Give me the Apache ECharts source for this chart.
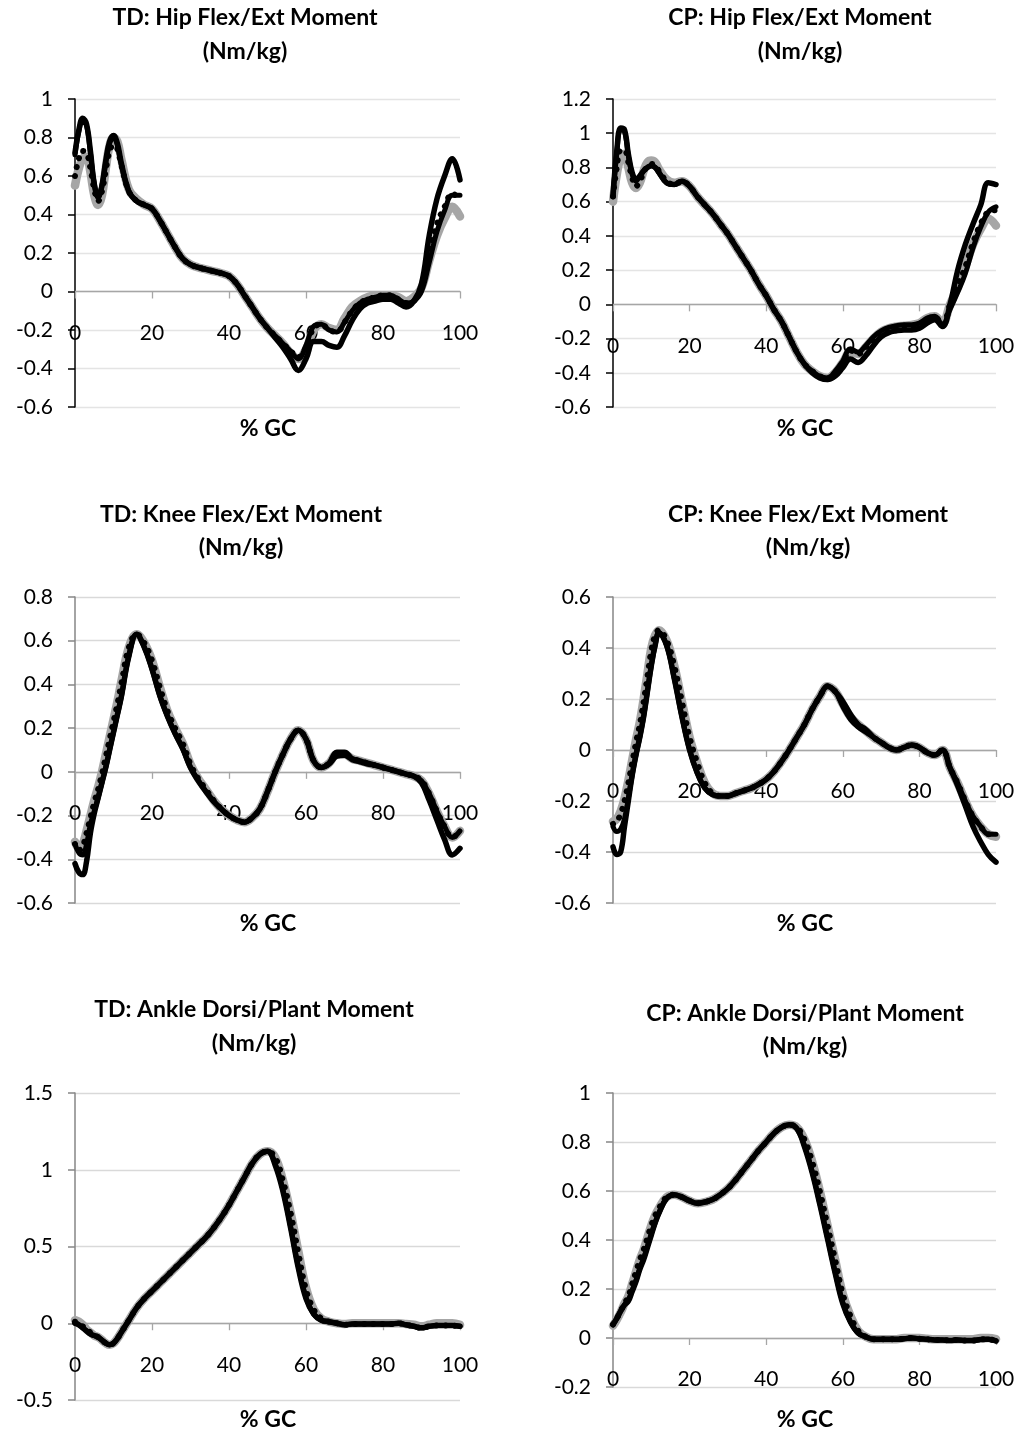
<!DOCTYPE html>
<html>
<head>
<meta charset="utf-8">
<script src="https://cdn.jsdelivr.net/npm/echarts@6/dist/echarts.min.js"></script>
<style>
  html, body { margin: 0; padding: 0; background: #fff; }
  #chart { width: 1019px; height: 1434px; }
</style>
</head>
<body>
<div id="chart"></div>
<script>
// Percent of gait cycle (finer steps through early stance)
const pct = [0,1,2,3,4,5,6,7,8,9,10,11,12,14,16,18,20,22,24,26,28,30,32,34,36,38,40,42,44,46,48,50,52,54,56,58,60,62,64,66,68,70,72,74,76,78,80,82,84,86,88,90,92,94,96,98,100];

// ---- TD: Hip flexion/extension moment (Nm/kg)
const tdHipA = [0.72,0.84,0.9,0.87,0.73,0.56,0.49,0.55,0.68,0.78,0.81,0.77,0.67,0.52,0.47,0.45,0.43,0.37,0.3,0.23,0.17,0.14,0.125,0.115,0.105,0.095,0.08,0.04,-0.02,-0.08,-0.14,-0.19,-0.24,-0.29,-0.35,-0.41,-0.35,-0.26,-0.26,-0.28,-0.29,-0.23,-0.15,-0.09,-0.06,-0.05,-0.04,-0.04,-0.06,-0.08,-0.05,0.04,0.29,0.48,0.6,0.69,0.58];
const tdHipB = [0.71,0.83,0.89,0.86,0.72,0.56,0.49,0.55,0.67,0.77,0.8,0.76,0.66,0.52,0.47,0.45,0.43,0.37,0.3,0.23,0.17,0.14,0.125,0.115,0.105,0.095,0.08,0.04,-0.02,-0.08,-0.14,-0.19,-0.23,-0.27,-0.31,-0.35,-0.28,-0.18,-0.17,-0.2,-0.21,-0.16,-0.1,-0.06,-0.04,-0.03,-0.02,-0.02,-0.04,-0.06,-0.05,0.0,0.15,0.31,0.42,0.5,0.5];
const tdHipDot = [0.6,0.69,0.73,0.72,0.64,0.53,0.47,0.52,0.63,0.73,0.76,0.74,0.66,0.52,0.47,0.45,0.43,0.37,0.3,0.23,0.17,0.14,0.125,0.115,0.105,0.095,0.08,0.04,-0.02,-0.08,-0.14,-0.19,-0.23,-0.27,-0.31,-0.34,-0.29,-0.19,-0.17,-0.2,-0.21,-0.16,-0.1,-0.06,-0.04,-0.03,-0.02,-0.02,-0.04,-0.06,-0.05,0.02,0.2,0.35,0.44,0.51,0.47];
const tdHipGrey = [0.55,0.64,0.69,0.7,0.62,0.5,0.45,0.5,0.64,0.76,0.8,0.78,0.69,0.53,0.48,0.45,0.43,0.37,0.3,0.23,0.17,0.14,0.125,0.115,0.105,0.095,0.08,0.04,-0.02,-0.08,-0.14,-0.19,-0.23,-0.27,-0.32,-0.35,-0.3,-0.2,-0.17,-0.19,-0.2,-0.14,-0.08,-0.05,-0.03,-0.02,-0.02,-0.02,-0.03,-0.05,-0.03,0.02,0.16,0.29,0.38,0.44,0.39];

// ---- CP: Hip flexion/extension moment (Nm/kg)
const cpHipA = [0.63,0.9,1.03,1.02,0.88,0.77,0.73,0.75,0.78,0.8,0.81,0.8,0.77,0.71,0.7,0.72,0.69,0.63,0.58,0.53,0.47,0.41,0.34,0.27,0.2,0.12,0.05,-0.03,-0.1,-0.19,-0.28,-0.35,-0.4,-0.43,-0.44,-0.42,-0.37,-0.32,-0.34,-0.3,-0.24,-0.19,-0.165,-0.155,-0.15,-0.15,-0.14,-0.11,-0.09,-0.13,0.0,0.2,0.35,0.47,0.58,0.71,0.7];
const cpHipB = [0.63,0.89,1.02,1.01,0.87,0.76,0.72,0.75,0.78,0.8,0.81,0.8,0.77,0.71,0.7,0.72,0.69,0.63,0.58,0.53,0.47,0.41,0.34,0.27,0.2,0.12,0.05,-0.03,-0.1,-0.19,-0.28,-0.35,-0.39,-0.42,-0.43,-0.39,-0.33,-0.26,-0.28,-0.24,-0.19,-0.155,-0.135,-0.125,-0.12,-0.12,-0.11,-0.08,-0.07,-0.12,-0.03,0.07,0.18,0.33,0.45,0.54,0.57];
const cpHipDot = [0.63,0.8,0.9,0.9,0.83,0.74,0.69,0.72,0.77,0.81,0.82,0.81,0.78,0.72,0.7,0.72,0.69,0.63,0.58,0.53,0.47,0.41,0.34,0.27,0.2,0.12,0.05,-0.03,-0.1,-0.19,-0.28,-0.35,-0.39,-0.42,-0.43,-0.4,-0.34,-0.27,-0.29,-0.25,-0.2,-0.16,-0.14,-0.13,-0.125,-0.125,-0.115,-0.085,-0.075,-0.12,0.0,0.11,0.22,0.36,0.47,0.54,0.55];
const cpHipGrey = [0.6,0.76,0.86,0.88,0.8,0.71,0.68,0.71,0.78,0.83,0.84,0.83,0.79,0.73,0.71,0.72,0.69,0.63,0.58,0.53,0.47,0.41,0.34,0.27,0.2,0.12,0.05,-0.03,-0.1,-0.19,-0.28,-0.35,-0.39,-0.42,-0.43,-0.4,-0.34,-0.28,-0.29,-0.25,-0.2,-0.16,-0.14,-0.13,-0.125,-0.12,-0.11,-0.08,-0.07,-0.11,0.0,0.1,0.22,0.35,0.44,0.5,0.46];

// ---- TD: Knee flexion/extension moment (Nm/kg)
const tdKneeA = [-0.42,-0.46,-0.47,-0.41,-0.28,-0.19,-0.12,-0.05,0.02,0.1,0.18,0.26,0.34,0.53,0.63,0.57,0.47,0.35,0.255,0.175,0.105,0.02,-0.04,-0.09,-0.135,-0.17,-0.2,-0.22,-0.23,-0.21,-0.17,-0.09,0.0,0.08,0.15,0.19,0.15,0.05,0.02,0.04,0.09,0.09,0.06,0.05,0.04,0.03,0.02,0.01,0.0,-0.01,-0.02,-0.05,-0.13,-0.22,-0.31,-0.38,-0.35];
const tdKneeB = [-0.33,-0.37,-0.38,-0.33,-0.24,-0.18,-0.12,-0.05,0.02,0.1,0.18,0.26,0.34,0.53,0.63,0.57,0.47,0.35,0.255,0.175,0.105,0.02,-0.04,-0.09,-0.135,-0.17,-0.2,-0.22,-0.23,-0.21,-0.17,-0.09,0.0,0.08,0.15,0.19,0.15,0.05,0.02,0.035,0.07,0.075,0.055,0.045,0.035,0.03,0.02,0.01,0.0,-0.01,-0.02,-0.04,-0.1,-0.18,-0.25,-0.3,-0.27];
const tdKneeDot = [-0.33,-0.36,-0.34,-0.28,-0.21,-0.14,-0.08,-0.01,0.07,0.15,0.23,0.31,0.4,0.57,0.63,0.59,0.51,0.39,0.28,0.2,0.13,0.035,-0.03,-0.08,-0.13,-0.17,-0.2,-0.22,-0.23,-0.21,-0.17,-0.09,0.0,0.08,0.15,0.19,0.15,0.05,0.02,0.04,0.08,0.08,0.06,0.05,0.04,0.03,0.02,0.01,0.0,-0.01,-0.02,-0.04,-0.1,-0.18,-0.25,-0.3,-0.27];
const tdKneeGrey = [-0.32,-0.35,-0.33,-0.27,-0.2,-0.13,-0.07,0.0,0.08,0.16,0.24,0.32,0.41,0.57,0.63,0.59,0.51,0.39,0.28,0.2,0.13,0.035,-0.03,-0.08,-0.13,-0.17,-0.2,-0.22,-0.23,-0.21,-0.17,-0.09,0.0,0.08,0.15,0.19,0.15,0.05,0.02,0.04,0.08,0.08,0.06,0.05,0.04,0.03,0.02,0.01,0.0,-0.01,-0.02,-0.04,-0.1,-0.18,-0.25,-0.3,-0.27];

// ---- CP: Knee flexion/extension moment (Nm/kg)
const cpKneeA = [-0.38,-0.41,-0.4,-0.3,-0.2,-0.1,-0.02,0.05,0.13,0.23,0.33,0.41,0.46,0.41,0.28,0.13,0.0,-0.09,-0.15,-0.175,-0.18,-0.18,-0.17,-0.16,-0.15,-0.135,-0.115,-0.085,-0.045,0.0,0.05,0.1,0.16,0.21,0.25,0.23,0.19,0.14,0.1,0.08,0.05,0.03,0.01,0.0,0.01,0.02,0.01,-0.01,-0.02,0.0,-0.07,-0.14,-0.22,-0.3,-0.36,-0.41,-0.44];
const cpKneeB = [-0.3,-0.32,-0.31,-0.27,-0.19,-0.1,-0.02,0.05,0.13,0.23,0.33,0.41,0.46,0.41,0.28,0.13,0.0,-0.09,-0.15,-0.175,-0.18,-0.18,-0.17,-0.16,-0.15,-0.135,-0.115,-0.085,-0.045,0.0,0.05,0.1,0.16,0.21,0.25,0.23,0.17,0.12,0.09,0.07,0.05,0.03,0.01,0.0,0.01,0.02,0.01,-0.01,-0.02,0.0,-0.07,-0.13,-0.2,-0.26,-0.3,-0.33,-0.33];
const cpKneeDot = [-0.29,-0.28,-0.25,-0.2,-0.13,-0.05,0.03,0.1,0.19,0.29,0.39,0.45,0.47,0.43,0.33,0.19,0.05,-0.05,-0.13,-0.17,-0.18,-0.18,-0.17,-0.16,-0.15,-0.135,-0.115,-0.085,-0.045,0.0,0.05,0.1,0.16,0.21,0.25,0.23,0.18,0.13,0.1,0.075,0.05,0.03,0.01,0.0,0.01,0.02,0.01,-0.01,-0.02,0.0,-0.07,-0.13,-0.2,-0.26,-0.3,-0.33,-0.33];
const cpKneeGrey = [-0.28,-0.27,-0.24,-0.19,-0.12,-0.04,0.04,0.11,0.2,0.3,0.4,0.45,0.47,0.43,0.33,0.19,0.05,-0.05,-0.13,-0.17,-0.18,-0.18,-0.17,-0.16,-0.15,-0.135,-0.115,-0.085,-0.045,0.0,0.05,0.1,0.16,0.21,0.25,0.23,0.18,0.13,0.1,0.075,0.05,0.03,0.01,0.0,0.01,0.02,0.01,-0.01,-0.02,0.0,-0.07,-0.13,-0.2,-0.26,-0.3,-0.33,-0.34];

// ---- TD: Ankle dorsi/plantar flexion moment (Nm/kg)
const tdAnkleA = [0.0,-0.01,-0.03,-0.05,-0.07,-0.08,-0.09,-0.11,-0.13,-0.14,-0.13,-0.1,-0.06,0.02,0.1,0.16,0.21,0.26,0.31,0.36,0.41,0.46,0.51,0.56,0.62,0.69,0.77,0.86,0.95,1.04,1.1,1.12,1.03,0.86,0.62,0.36,0.16,0.06,0.02,0.01,0.0,-0.01,-0.005,-0.005,-0.005,-0.005,-0.005,-0.005,0.0,-0.01,-0.02,-0.03,-0.02,-0.015,-0.015,-0.015,-0.02];
const tdAnkleB = [0.0,-0.01,-0.03,-0.05,-0.07,-0.08,-0.09,-0.11,-0.13,-0.14,-0.13,-0.1,-0.06,0.02,0.1,0.16,0.21,0.26,0.31,0.36,0.41,0.46,0.51,0.56,0.62,0.69,0.77,0.86,0.95,1.04,1.1,1.12,1.04,0.87,0.63,0.37,0.17,0.06,0.02,0.01,0.0,-0.01,-0.005,-0.005,-0.005,-0.005,-0.005,-0.005,0.0,-0.01,-0.02,-0.03,-0.02,-0.015,-0.015,-0.015,-0.02];
const tdAnkleDot = [0.01,0.0,-0.02,-0.04,-0.06,-0.08,-0.09,-0.11,-0.13,-0.14,-0.13,-0.1,-0.06,0.02,0.1,0.16,0.21,0.26,0.31,0.36,0.41,0.46,0.51,0.56,0.62,0.69,0.77,0.86,0.95,1.04,1.1,1.12,1.08,0.93,0.72,0.46,0.22,0.09,0.03,0.01,0.0,-0.01,-0.005,-0.005,-0.005,-0.005,-0.005,-0.005,0.0,-0.01,-0.02,-0.03,-0.02,-0.015,-0.015,-0.015,-0.02];
const tdAnkleGrey = [0.02,0.01,-0.01,-0.04,-0.06,-0.08,-0.09,-0.11,-0.13,-0.14,-0.13,-0.1,-0.06,0.02,0.1,0.16,0.21,0.26,0.31,0.36,0.41,0.46,0.51,0.56,0.62,0.69,0.77,0.86,0.95,1.04,1.1,1.12,1.08,0.93,0.72,0.47,0.23,0.09,0.03,0.01,0.0,-0.005,0.0,0.0,0.0,0.0,0.0,0.0,0.0,-0.005,-0.01,-0.02,-0.01,0.0,0.0,0.0,-0.01];

// ---- CP: Ankle dorsi/plantar flexion moment (Nm/kg)
const cpAnkleA = [0.055,0.08,0.11,0.135,0.15,0.19,0.23,0.28,0.32,0.37,0.42,0.47,0.51,0.57,0.585,0.575,0.56,0.55,0.555,0.565,0.585,0.61,0.645,0.685,0.725,0.765,0.8,0.835,0.86,0.87,0.855,0.78,0.675,0.545,0.405,0.265,0.14,0.065,0.02,0.005,-0.005,-0.005,-0.005,-0.005,-0.003,0.0,-0.003,-0.005,-0.008,-0.008,-0.01,-0.008,-0.01,-0.01,-0.006,-0.005,-0.012];
const cpAnkleB = [0.055,0.08,0.11,0.135,0.155,0.195,0.235,0.285,0.325,0.375,0.425,0.47,0.51,0.57,0.585,0.575,0.56,0.55,0.555,0.565,0.585,0.61,0.645,0.685,0.725,0.765,0.8,0.835,0.86,0.87,0.855,0.785,0.68,0.55,0.41,0.27,0.145,0.065,0.02,0.005,-0.005,-0.005,-0.005,-0.005,-0.003,0.0,-0.003,-0.005,-0.008,-0.008,-0.01,-0.008,-0.01,-0.01,-0.006,-0.005,-0.012];
const cpAnkleDot = [0.055,0.08,0.11,0.14,0.17,0.22,0.27,0.32,0.36,0.41,0.46,0.5,0.53,0.575,0.585,0.575,0.56,0.55,0.555,0.565,0.585,0.61,0.645,0.685,0.725,0.765,0.8,0.835,0.86,0.87,0.86,0.81,0.72,0.6,0.46,0.32,0.18,0.09,0.03,0.005,-0.005,-0.005,-0.005,-0.005,-0.003,0.0,-0.003,-0.005,-0.008,-0.008,-0.01,-0.008,-0.01,-0.01,-0.006,-0.005,-0.012];
const cpAnkleGrey = [0.05,0.075,0.105,0.14,0.17,0.22,0.27,0.32,0.36,0.41,0.46,0.5,0.53,0.575,0.585,0.575,0.56,0.55,0.555,0.565,0.585,0.61,0.645,0.685,0.725,0.765,0.8,0.835,0.86,0.87,0.86,0.81,0.72,0.6,0.46,0.32,0.18,0.09,0.03,0.005,-0.005,-0.005,-0.005,-0.005,0.0,0.0,0.0,-0.003,-0.005,-0.005,-0.005,-0.005,-0.005,-0.005,0.0,0.0,-0.005];

// Panel titles and axis label
const titles = [
  ['TD: Hip Flex/Ext Moment', '(Nm/kg)'],
  ['CP: Hip Flex/Ext Moment', '(Nm/kg)'],
  ['TD: Knee Flex/Ext Moment', '(Nm/kg)'],
  ['CP: Knee Flex/Ext Moment', '(Nm/kg)'],
  ['TD: Ankle Dorsi/Plant Moment', '(Nm/kg)'],
  ['CP: Ankle Dorsi/Plant Moment', '(Nm/kg)']
];
const xAxisTitle = '% GC';
const xTicks = { min: 0, max: 100, interval: 20 };
const yRanges = [
  { min: -0.6, max: 1, interval: 0.2 },
  { min: -0.6, max: 1.2, interval: 0.2 },
  { min: -0.6, max: 0.8, interval: 0.2 },
  { min: -0.6, max: 0.6, interval: 0.2 },
  { min: -0.5, max: 1.5, interval: 0.5 },
  { min: -0.2, max: 1, interval: 0.2 }
];

// Layout for each panel
const FONT = 'Lato, "Noto Sans", sans-serif';
const panels = [
  { grid: { left: 75, top: 99, width: 385, height: 308 }, title: { x: 245, y1: 18, y2: 52 }, xt: { x: 268, y: 429 }, axis: '#000000', split: '#e4e4e4',
    series: [tdHipGrey, tdHipB, tdHipA, tdHipDot] },
  { grid: { left: 613, top: 99, width: 383, height: 308 }, title: { x: 800, y1: 18, y2: 52 }, xt: { x: 805, y: 429 }, axis: '#000000', split: '#e4e4e4',
    series: [cpHipGrey, cpHipB, cpHipA, cpHipDot] },
  { grid: { left: 75, top: 597, width: 385, height: 306 }, title: { x: 241, y1: 515, y2: 548 }, xt: { x: 268, y: 924 }, axis: '#868686', split: '#d9d9d9',
    series: [tdKneeGrey, tdKneeB, tdKneeA, tdKneeDot] },
  { grid: { left: 613, top: 597, width: 383, height: 306 }, title: { x: 808, y1: 515, y2: 548 }, xt: { x: 805, y: 924 }, axis: '#868686', split: '#d9d9d9',
    series: [cpKneeGrey, cpKneeB, cpKneeA, cpKneeDot] },
  { grid: { left: 75, top: 1093, width: 385, height: 307 }, title: { x: 254, y1: 1010, y2: 1044 }, xt: { x: 268, y: 1420 }, axis: '#868686', split: '#d9d9d9',
    series: [tdAnkleGrey, tdAnkleB, tdAnkleA, tdAnkleDot] },
  { grid: { left: 613, top: 1093, width: 383, height: 294 }, title: { x: 805, y1: 1014, y2: 1047 }, xt: { x: 805, y: 1420 }, axis: '#868686', split: '#d9d9d9',
    series: [cpAnkleGrey, cpAnkleB, cpAnkleA, cpAnkleDot] }
];

// Line styles: grey band, two solid black lines, round-dotted black on top
const styles = [
  { color: '#a6a6a6', width: 8.5, type: 'solid', cap: 'round' },
  { color: '#000000', width: 5, type: 'solid', cap: 'round' },
  { color: '#000000', width: 5.5, type: 'solid', cap: 'round' },
  { color: '#000000', width: 6, type: [0.1, 9], cap: 'round' }
];

const toPairs = ys => pct.map((x, i) => [x, ys[i]]);
const fmt = v => String(Math.round(v * 100) / 100);

const grids = [], xAxes = [], yAxes = [], series = [], graphics = [];
panels.forEach((p, k) => {
  const r = yRanges[k];
  // the category axis sits on the zero line, labels hang below it
  const zeroLift = p.grid.height * (0 - r.min) / (r.max - r.min);
  grids.push(Object.assign({ containLabel: false }, p.grid));
  xAxes.push({
    type: 'value', gridIndex: k, min: xTicks.min, max: xTicks.max, interval: xTicks.interval,
    position: 'bottom', offset: -zeroLift,
    axisLine: { onZero: false, lineStyle: { color: '#a6a6a6', width: 1.3 } },
    axisTick: { show: true, inside: false, length: 7, lineStyle: { color: '#a6a6a6', width: 1.3 } },
    axisLabel: { margin: 31, color: '#000', fontSize: 21, fontFamily: FONT, formatter: fmt },
    splitLine: { show: false }
  });
  yAxes.push({
    type: 'value', gridIndex: k, min: r.min, max: r.max, interval: r.interval,
    axisLine: { show: true, onZero: false, lineStyle: { color: p.axis, width: 1.5 } },
    axisTick: { show: true, inside: false, length: 7, lineStyle: { color: p.axis, width: 1.5 } },
    axisLabel: { margin: 22, color: '#000', fontSize: 21, fontFamily: FONT, formatter: fmt },
    splitLine: { show: true, lineStyle: { color: p.split, width: 1.3 } }
  });
  p.series.forEach((ys, j) => {
    series.push({
      type: 'line', xAxisIndex: k, yAxisIndex: k, data: toPairs(ys),
      smooth: 0.4, showSymbol: false, symbol: 'none', z: 2 + j,
      lineStyle: styles[j], silent: true
    });
  });
  graphics.push(
    { type: 'text', x: p.title.x, y: p.title.y1, style: { text: titles[k][0], font: 'bold 23px ' + FONT, fill: '#000', textAlign: 'center', textVerticalAlign: 'middle' } },
    { type: 'text', x: p.title.x, y: p.title.y2, style: { text: titles[k][1], font: 'bold 23px ' + FONT, fill: '#000', textAlign: 'center', textVerticalAlign: 'middle' } },
    { type: 'text', x: p.xt.x, y: p.xt.y, style: { text: xAxisTitle, font: 'bold 23px ' + FONT, fill: '#000', textAlign: 'center', textVerticalAlign: 'middle' } }
  );
});

const chart = echarts.init(document.getElementById('chart'), null, { renderer: 'canvas' });
chart.setOption({
  animation: false,
  backgroundColor: '#ffffff',
  grid: grids,
  xAxis: xAxes,
  yAxis: yAxes,
  series: series,
  graphic: graphics
});
</script>
</body>
</html>
